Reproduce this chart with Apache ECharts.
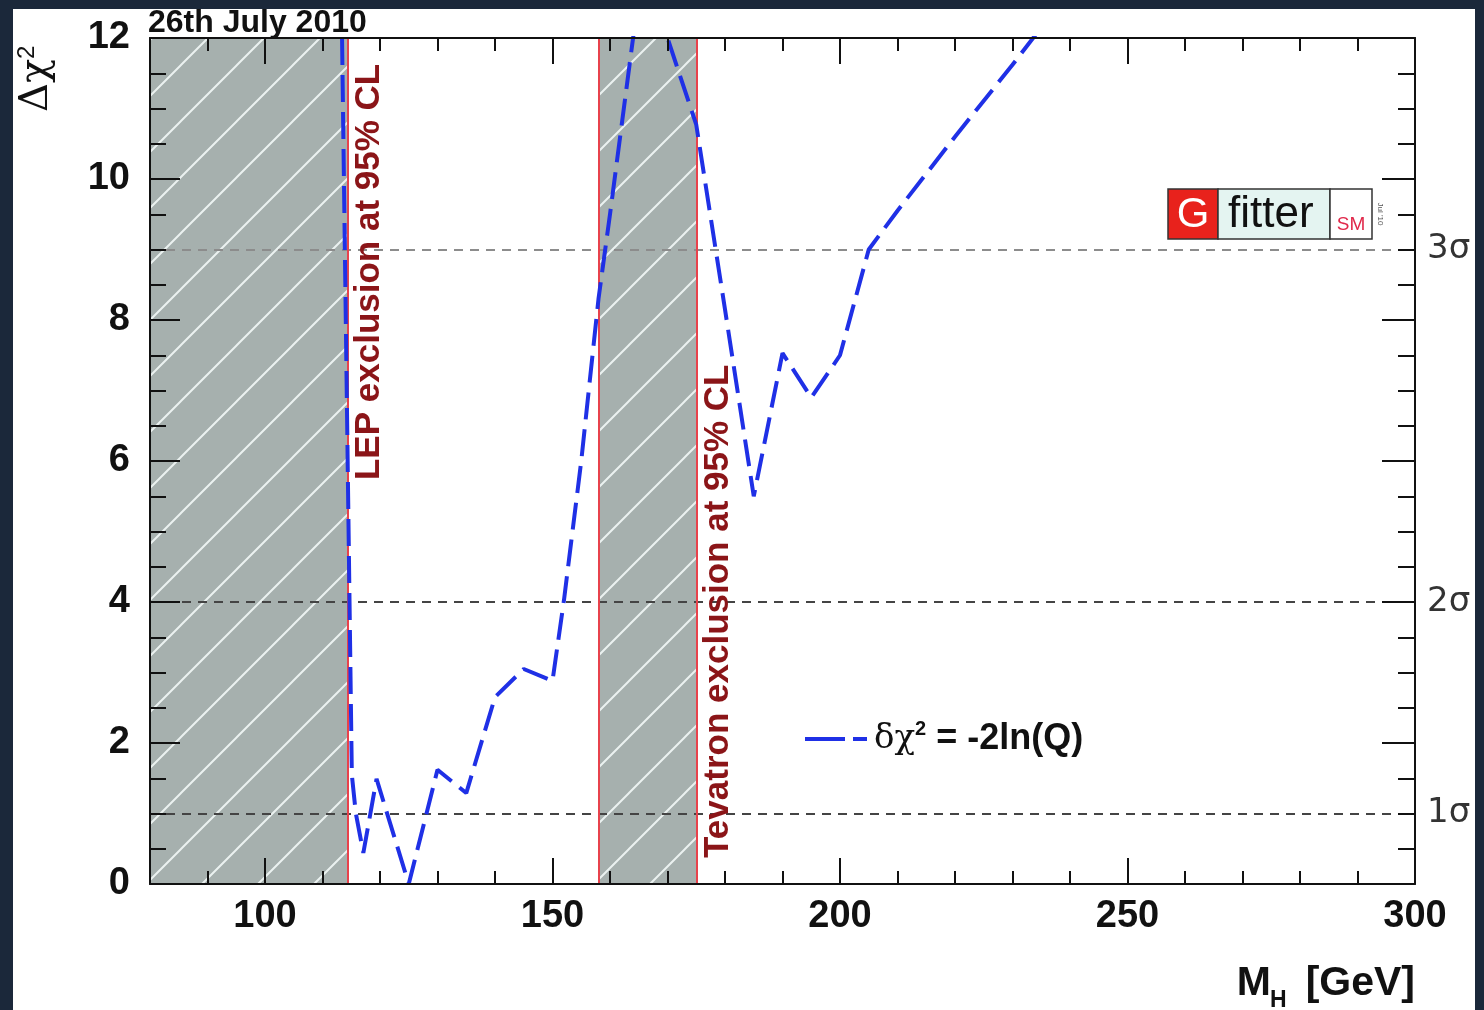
<!DOCTYPE html>
<html><head><meta charset="utf-8">
<script src="https://cdn.jsdelivr.net/npm/echarts@6/dist/echarts.min.js"></script>
<style>
html,body{margin:0;padding:0;background:#1b283a;width:1484px;height:1010px;overflow:hidden}
#frame{position:absolute;left:13px;top:9px;width:1462px;height:1001px;background:#fff;overflow:hidden}
#chart{width:1462px;height:1001px}
</style></head><body>
<div id="frame"><div id="chart"></div></div>
<script>
// ---- data ----
const massGeV   = [113.4, 115.1, 115.8, 117.1, 119.4, 125, 130, 135, 140, 145, 150, 152, 155, 158, 160, 163.8, 165, 170, 175, 180, 185, 190, 195, 200, 205, 210, 220, 230, 235];
const deltaChi2 = [12.0, 1.55, 1.0, 0.44, 1.49, 0.0, 1.62, 1.29, 2.65, 3.05, 2.88, 4.03, 6.0, 8.3, 9.5, 11.87, 12.6, 12.0, 10.77, 8.15, 5.5, 7.53, 6.9, 7.5, 9.0, 9.55, 10.6, 11.62, 12.15];
const sigmaLevels = [1, 4, 9];
const sigmaLabels = ['1σ', '2σ', '3σ'];
const lepExclusion = [80, 114.4];
const tevatronExclusion = [158, 175];
const xMajorTicks = [100, 150, 200, 250, 300];
const xRange = [80, 300];
const yRange = [0, 12];
const seriesName = 'δχ² = -2ln(Q)';
const lepLabel = 'LEP exclusion at 95% CL';
const tevLabel = 'Tevatron exclusion at 95% CL';
const lepLabelAnchor = [114.4, 5.73];
const tevLabelAnchor = [175, 0.37];
const dateText = '26th July 2010';

const FONT = '"Liberation Sans", Arial, Helvetica, sans-serif';
const CURVE_COLOR = '#1f30e6';

function hatchCanvas() {
  const s = 56;
  const c = document.createElement('canvas');
  c.width = s; c.height = s;
  const g = c.getContext('2d');
  g.fillStyle = '#a6b0ae';
  g.fillRect(0, 0, s, s);
  g.strokeStyle = 'rgba(238,244,243,0.95)';
  g.lineWidth = 2;
  g.beginPath();
  g.moveTo(-3, s + 3); g.lineTo(s + 3, -3);
  g.moveTo(-3, 3); g.lineTo(3, -3);
  g.moveTo(s - 3, s + 3); g.lineTo(s + 3, s - 3);
  g.stroke();
  return c;
}
const hatch = { image: hatchCanvas(), repeat: 'repeat' };

const chart = echarts.init(document.getElementById('chart'), null, { renderer: 'canvas' });

const axisLineStyle = { color: '#111', width: 2 };
const tickStyle = { color: '#111', width: 2 };

function xAxisDef(position, major) {
  return {
    type: 'value', position: position, min: xRange[0], max: xRange[1], interval: 10,
    axisLine: { show: !major, lineStyle: axisLineStyle, onZero: false },
    axisTick: major ? { inside: true, length: 26, customValues: xMajorTicks, lineStyle: tickStyle }
                    : { inside: true, length: 13, lineStyle: tickStyle },
    axisLabel: (major && position === 'bottom') ? {
      show: true, customValues: xMajorTicks, margin: 14,
      fontFamily: FONT, fontWeight: 'bold', fontSize: 38, color: '#111'
    } : { show: false },
    splitLine: { show: false }, minorTick: { show: false }, z: 10
  };
}
function yAxisDef(position) {
  const left = position === 'left';
  return {
    type: 'value', position: position, min: yRange[0], max: yRange[1], interval: 2,
    axisLine: { show: true, lineStyle: axisLineStyle, onZero: false },
    axisTick: { inside: true, length: left ? 30 : 33, lineStyle: tickStyle },
    minorTick: { show: true, splitNumber: 4, length: left ? 16 : 17, lineStyle: tickStyle },
    axisLabel: left ? { show: true, margin: 20, fontFamily: FONT, fontWeight: 'bold', fontSize: 38, color: '#111' } : { show: false },
    splitLine: { show: false }, z: 10
  };
}

const option = {
  animation: false,
  backgroundColor: '#fff',
  grid: { left: 137, top: 29, right: 60, bottom: 126, containLabel: false },
  xAxis: [xAxisDef('bottom', false), xAxisDef('bottom', true), xAxisDef('top', false), xAxisDef('top', true)],
  yAxis: [yAxisDef('left'), yAxisDef('right')],
  legend: {
    data: [{ name: seriesName, icon: 'path://M0,0L40,0L40,4L0,4ZM48,0L62,0L62,4L48,4Z' }],
    left: 787, top: 705, itemWidth: 62, itemHeight: 4, selectedMode: false,
    itemStyle: { color: CURVE_COLOR, borderWidth: 0 },
    formatter: function () { return '{g|δχ}{sup|2}{b| = -2ln(Q)}'; },
    textStyle: {
      padding: [0, 0, 0, 2],
      rich: {
        g: { fontFamily: '"DejaVu Serif", serif', fontSize: 34, color: '#111', lineHeight: 40 },
        sup: { fontFamily: FONT, fontWeight: 'bold', fontSize: 20, color: '#111', lineHeight: 14, verticalAlign: 'top' },
        b: { fontFamily: FONT, fontWeight: 'bold', fontSize: 36, color: '#111', lineHeight: 40 }
      }
    }
  },
  series: [
    {
      name: 'bands', type: 'line', data: [], z: 1, silent: true, xAxisIndex: 0, yAxisIndex: 0,
      markArea: {
        silent: true,
        itemStyle: { color: hatch, borderWidth: 0 },
        data: [
          [{ xAxis: lepExclusion[0] }, { xAxis: lepExclusion[1] }],
          [{ xAxis: tevatronExclusion[0] }, { xAxis: tevatronExclusion[1] }]
        ]
      }
    },
    {
      name: 'sigma', type: 'line', data: [], z: 2, silent: true, xAxisIndex: 0, yAxisIndex: 0,
      markLine: {
        silent: true, symbol: ['none', 'none'],
        lineStyle: { type: [9, 7], width: 2, color: '#444' },
        label: { show: true, position: 'end', distance: 12, formatter: '{b}', fontFamily: '"DejaVu Sans", sans-serif', fontSize: 34, color: '#333' },
        data: sigmaLevels.map(function (v, i) {
          return { yAxis: v, name: sigmaLabels[i], lineStyle: { color: v === 9 ? '#8c8c8c' : '#444' } };
        })
      }
    },
    {
      name: 'limits', type: 'line', data: [], z: 3, silent: true, xAxisIndex: 0, yAxisIndex: 0,
      markLine: {
        silent: true, symbol: ['none', 'none'],
        lineStyle: { type: 'solid', width: 2, color: '#e8424c' },
        label: { show: false },
        data: [{ xAxis: lepExclusion[1] }, { xAxis: tevatronExclusion[0] }, { xAxis: tevatronExclusion[1] }]
      }
    },
    {
      name: seriesName, type: 'line', z: 5, xAxisIndex: 0, yAxisIndex: 0,
      data: massGeV.map(function (m, i) { return [m, deltaChi2[i]]; }),
      symbol: 'none', showSymbol: false, clip: true, smooth: false,
      lineStyle: { color: CURVE_COLOR, width: 4, type: [27, 10] },
      itemStyle: { color: CURVE_COLOR }
    }
  ]
};
chart.setOption(option);

const lp = chart.convertToPixel({ gridIndex: 0 }, lepLabelAnchor);
const tp = chart.convertToPixel({ gridIndex: 0 }, tevLabelAnchor);

chart.setOption({
  graphic: [
    { type: 'text', x: lp[0] + 22, y: lp[1], rotation: Math.PI / 2, z: 20,
      style: { text: lepLabel, fontFamily: FONT, fontWeight: 'bold', fontSize: 35, fill: '#8b1518', textAlign: 'left', textVerticalAlign: 'middle' } },
    { type: 'text', x: tp[0] + 22, y: tp[1], rotation: Math.PI / 2, z: 20,
      style: { text: tevLabel, fontFamily: FONT, fontWeight: 'bold', fontSize: 35, fill: '#8b1518', textAlign: 'left', textVerticalAlign: 'middle' } },
    { type: 'text', x: 135, y: 14, z: 20,
      style: { text: dateText, fontFamily: FONT, fontWeight: 'bold', fontSize: 32, fill: '#111', textAlign: 'left', textVerticalAlign: 'middle' } },
    // x axis title
    { type: 'text', x: 1402, y: 975, z: 20,
      style: { text: '[GeV]', fontFamily: FONT, fontWeight: 'bold', fontSize: 41, fill: '#111', textAlign: 'right', textVerticalAlign: 'middle' } },
    { type: 'text', x: 1257, y: 992, z: 20,
      style: { text: 'H', fontFamily: FONT, fontWeight: 'bold', fontSize: 23, fill: '#111', textAlign: 'left', textVerticalAlign: 'middle' } },
    { type: 'text', x: 1258, y: 975, z: 20,
      style: { text: 'M', fontFamily: FONT, fontWeight: 'bold', fontSize: 41, fill: '#111', textAlign: 'right', textVerticalAlign: 'middle' } },
    // y axis title
    { type: 'text', x: 24, y: 103, rotation: Math.PI / 2, z: 20,
      style: {
        text: '{a|Δχ}{s|2}', textAlign: 'left', textVerticalAlign: 'middle',
        rich: {
          a: { fontFamily: '"DejaVu Serif", serif', fontSize: 40, fill: '#111', lineHeight: 44 },
          s: { fontFamily: FONT, fontSize: 24, fill: '#111', lineHeight: 20, verticalAlign: 'top' }
        }
      } },
    // logo
    { type: 'group', x: 1155, y: 180, z: 20, children: [
      { type: 'rect', shape: { x: 0, y: 0, width: 50, height: 50 }, style: { fill: '#e8221c', stroke: '#333', lineWidth: 1.5 } },
      { type: 'rect', shape: { x: 50, y: 0, width: 112, height: 50 }, style: { fill: '#e4f4f1', stroke: '#333', lineWidth: 1.5 } },
      { type: 'rect', shape: { x: 162, y: 0, width: 42, height: 50 }, style: { fill: '#ffffff', stroke: '#333', lineWidth: 1.5 } },
      { type: 'text', x: 25, y: 26, style: { text: 'G', fontFamily: FONT, fontSize: 42, fill: '#fff', textAlign: 'center', textVerticalAlign: 'middle' } },
      { type: 'text', x: 60, y: 26, style: { text: 'fitter', fontFamily: FONT, fontSize: 44, fill: '#111', textAlign: 'left', textVerticalAlign: 'middle' } },
      { type: 'text', x: 183, y: 36, style: { text: 'SM', fontFamily: FONT, fontSize: 19, fill: '#e0284a', textAlign: 'center', textVerticalAlign: 'middle' } },
      { type: 'text', x: 212, y: 25, rotation: -Math.PI / 2, style: { text: "Jul '10", fontFamily: FONT, fontSize: 8, fill: '#555', textAlign: 'center', textVerticalAlign: 'middle' } }
    ] }
  ]
});
</script>
</body></html>
